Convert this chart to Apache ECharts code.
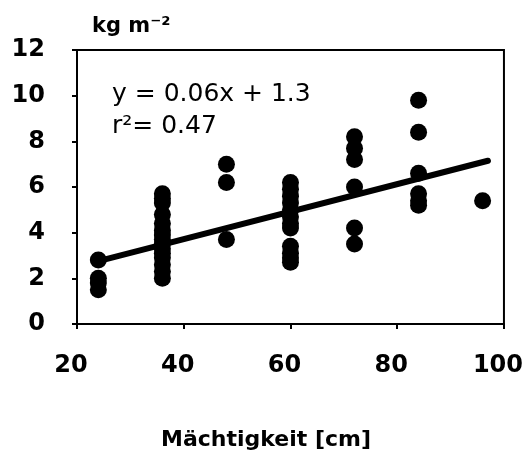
<!DOCTYPE html>
<html>
<head>
<meta charset="utf-8">
<script src="https://cdn.jsdelivr.net/npm/echarts@6/dist/echarts.min.js"></script>
<style>html,body{margin:0;padding:0;background:#fff}#c{width:526px;height:454px}</style>
</head>
<body>
<div id="c"></div>
<script>
// Depths (cm) and stocks (kg m-2)
const depths = [24, 36, 48, 60, 72, 84, 96];
const stock24 = [2.8, 2.0, 1.8, 1.5];
const stock36 = [5.7, 5.5, 5.3, 4.8, 4.4, 4.1, 3.9, 3.7, 3.5, 3.3, 3.1, 2.9, 2.6, 2.3, 2.0];
const stock48 = [7.0, 6.2, 3.7];
const stock60 = [6.2, 5.9, 5.6, 5.3, 5.0, 4.7, 4.4, 4.2, 3.4, 3.1, 2.9, 2.7];
const stock72 = [8.2, 7.7, 7.2, 6.0, 4.2, 3.5];
const stock84 = [9.8, 8.4, 6.6, 5.7, 5.4, 5.2];
const stock96 = [5.4];
const stocksByDepth = [stock24, stock36, stock48, stock60, stock72, stock84, stock96];
// Regression line end points
const fitX = [24, 97];
const fitY = [2.75, 7.15];
const xTicks = [20, 40, 60, 80, 100];
const yTicks = [0, 2, 4, 6, 8, 10, 12];

const points = [];
depths.forEach((d, i) => stocksByDepth[i].forEach(v => points.push([d, v])));
const fitLine = fitX.map((x, i) => [x, fitY[i]]);

const chart = echarts.init(document.getElementById('c'), null, {renderer: 'canvas'});
const font = 'DejaVu Sans';
chart.setOption({
  animation: false,
  backgroundColor: '#fff',
  grid: {left: 77, right: 21, top: 50, bottom: 130, show: true, borderColor: '#000', borderWidth: 2},
  title: [
    {text: 'kg m⁻²', left: 87, top: 11, textStyle: {fontFamily: font, fontWeight: 'bold', fontSize: 21, color: '#000'}},
    {text: 'y = 0.06x + 1.3\nr²= 0.47', left: 107, top: 73,
     textStyle: {fontFamily: font, fontWeight: 'normal', fontSize: 25, lineHeight: 32, color: '#000'}},
    {text: 'Mächtigkeit [cm]', left: 156, top: 424, textStyle: {fontFamily: font, fontWeight: 'bold', fontSize: 22, color: '#000'}}
  ],
  xAxis: {
    type: 'value', min: xTicks[0], max: xTicks[xTicks.length - 1], interval: 20,
    axisLine: {show: true, lineStyle: {color: '#000', width: 2}},
    axisTick: {show: true, length: 5, lineStyle: {color: '#000', width: 2}},
    splitLine: {show: false},
    axisLabel: {margin: 30, padding: [0, 12, 0, 0], fontFamily: font, fontWeight: 'bold', fontSize: 24, color: '#000'}
  },
  yAxis: {
    type: 'value', min: yTicks[0], max: yTicks[yTicks.length - 1], interval: 2,
    axisLine: {show: true, lineStyle: {color: '#000', width: 2}},
    axisTick: {show: true, length: 5, lineStyle: {color: '#000', width: 2}},
    splitLine: {show: false},
    axisLabel: {margin: 32, fontFamily: font, fontWeight: 'bold', fontSize: 24, color: '#000'}
  },
  series: [
    {type: 'scatter', data: points, symbol: 'circle', symbolSize: 17, itemStyle: {color: '#000', opacity: 1}, z: 3},
    {type: 'line', data: fitLine, symbol: 'none', lineStyle: {color: '#000', width: 6, cap: 'round', opacity: 1}, z: 4}
  ]
});
</script>
</body>
</html>
